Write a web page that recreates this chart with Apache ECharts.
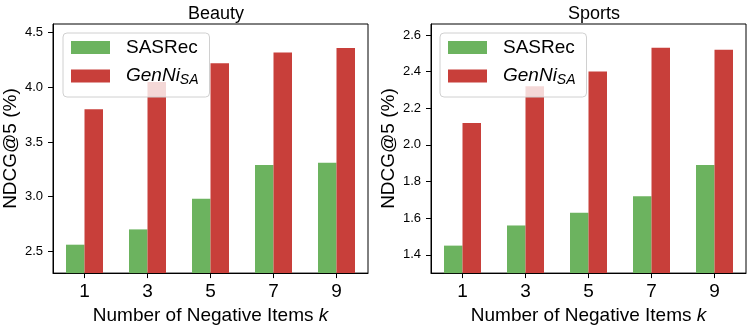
<!DOCTYPE html>
<html>
<head>
<meta charset="utf-8">
<script src="https://cdn.jsdelivr.net/npm/echarts@6/dist/echarts.min.js"></script>
<style>
  html, body { margin: 0; padding: 0; background: #fff; }
  #chart { width: 747px; height: 330px; }
</style>
</head>
<body>
<div id="chart"></div>
<script>
// --- Data ---
const categories = ['1', '3', '5', '7', '9'];
const beautySASRec = [2.56, 2.70, 2.98, 3.29, 3.31];
const beautyGenNi = [3.80, 4.05, 4.22, 4.32, 4.36];
const sportsSASRec = [1.45, 1.56, 1.63, 1.72, 1.89];
const sportsGenNi = [2.12, 2.32, 2.40, 2.53, 2.52];
const beautyTicks = [2.5, 3.0, 3.5, 4.0, 4.5];
const sportsTicks = [1.4, 1.6, 1.8, 2.0, 2.2, 2.4, 2.6];

const FONT = '"Liberation Sans", Arial, Helvetica, sans-serif';
const GREEN = '#6cb35f';
const RED = '#c83f3a';

// --- Helpers ---
function xAxisFor(gridIndex) {
    return {
        type: 'category', gridIndex, data: categories,
        boundaryGap: true,
        axisLine: { show: true, lineStyle: { color: '#000', width: 1 } },
        axisTick: { show: true, alignWithLabel: true, length: 5, lineStyle: { color: '#000' } },
        axisLabel: { color: '#000', fontSize: 19, fontFamily: FONT, margin: 9 },
        name: '{n|Number of Negative Items }{k|k}',
        nameLocation: 'middle', nameGap: 32,
        nameTextStyle: {
            rich: {
                n: { fontSize: 19, fontFamily: FONT, color: '#000' },
                k: { fontSize: 19, fontFamily: FONT, color: '#000', fontStyle: 'italic' },
            },
        },
    };
}

function yAxisFor(gridIndex, min, max, ticks) {
    return {
        type: 'value', gridIndex, min, max,
        axisLine: { show: true, lineStyle: { color: '#000', width: 1 } },
        axisTick: { show: true, length: 5, customValues: ticks, lineStyle: { color: '#000' } },
        axisLabel: {
            color: '#000', fontSize: 13, fontFamily: FONT, margin: 10,
            customValues: ticks, formatter: v => v.toFixed(1),
        },
        splitLine: { show: false },
        name: 'NDCG@5 (%)', nameLocation: 'middle', nameGap: 33, nameRotate: 90,
        nameTextStyle: { color: '#000', fontSize: 19, fontFamily: FONT },
    };
}

function legendFor(left) {
    return {
        left, top: 33, orient: 'vertical',
        data: ['SASRec', 'GenNi'],
        icon: 'rect', itemWidth: 39, itemHeight: 13, itemGap: 8,
        padding: [5, 11, 10, 8],
        backgroundColor: 'rgba(255,255,255,0.8)',
        borderColor: '#d0d0d0', borderWidth: 1, borderRadius: 4,
        formatter: name => name === 'GenNi' ? '{i|GenNi}{s|SA}' : '{r|SASRec}',
        textStyle: {
            padding: [0, 0, 0, 11],
            rich: {
                r: { fontSize: 19, fontFamily: FONT, color: '#000', lineHeight: 23 },
                i: { fontSize: 19, fontFamily: FONT, color: '#000', fontStyle: 'italic', lineHeight: 23 },
                s: { fontSize: 14, fontFamily: FONT, color: '#000', fontStyle: 'italic', lineHeight: 23, padding: [8, 0, 0, 0] },
            },
        },
    };
}

function barsFor(axisIndex, sas, gen) {
    return [
        { name: 'SASRec', type: 'bar', xAxisIndex: axisIndex, yAxisIndex: axisIndex, data: sas,
          barWidth: 18.5, barGap: '0%', itemStyle: { color: GREEN } },
        { name: 'GenNi', type: 'bar', xAxisIndex: axisIndex, yAxisIndex: axisIndex, data: gen,
          barWidth: 18.5, barGap: '0%', itemStyle: { color: RED } },
    ];
}

// --- Chart ---
const chart = echarts.init(document.getElementById('chart'), null, { renderer: 'canvas' });
chart.setOption({
    animation: false,
    textStyle: { fontFamily: FONT },
    title: [
        { text: 'Beauty', left: 211, top: 0, textAlign: 'center',
          textStyle: { fontSize: 18, fontWeight: 'normal', color: '#000', fontFamily: FONT } },
        { text: 'Sports', left: 589, top: 0, textAlign: 'center',
          textStyle: { fontSize: 18, fontWeight: 'normal', color: '#000', fontFamily: FONT } },
    ],
    grid: [
        { left: 53, top: 24, width: 315, height: 253, show: true, borderColor: '#000', borderWidth: 1, backgroundColor: 'transparent' },
        { left: 431, top: 24, width: 315, height: 253, show: true, borderColor: '#000', borderWidth: 1, backgroundColor: 'transparent' },
    ],
    xAxis: [xAxisFor(0), xAxisFor(1)],
    yAxis: [yAxisFor(0, 2.30, 4.58, beautyTicks), yAxisFor(1, 1.30, 2.66, sportsTicks)],
    legend: [legendFor(63), legendFor(440)],
    series: [...barsFor(0, beautySASRec, beautyGenNi), ...barsFor(1, sportsSASRec, sportsGenNi)],
});
</script>
</body>
</html>
